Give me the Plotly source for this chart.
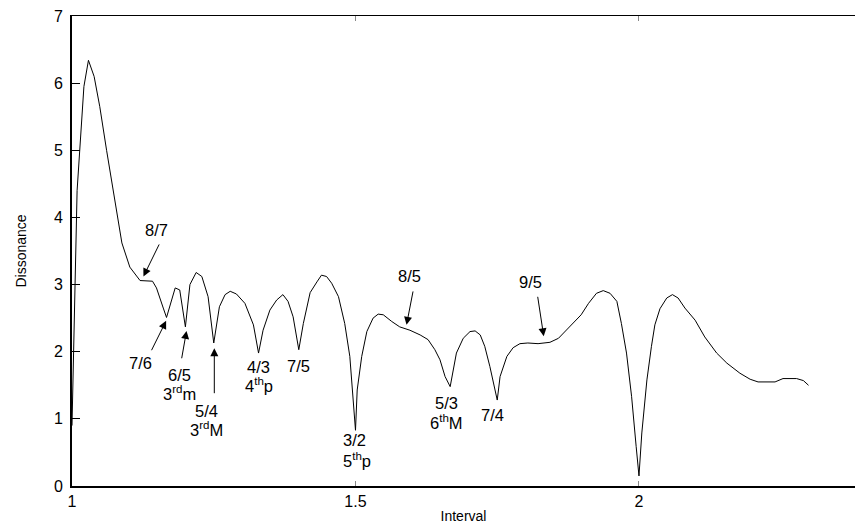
import plotly.graph_objects as go

# Dissonance curve (interval ratio, dissonance)
interval = [1.000, 1.009, 1.021, 1.029, 1.039, 1.049, 1.061, 1.076, 1.088, 1.102,
            1.120, 1.142, 1.149, 1.161, 1.1667, 1.182, 1.190, 1.200, 1.208, 1.219,
            1.229, 1.240, 1.250, 1.260, 1.270, 1.279, 1.290, 1.305, 1.320, 1.329,
            1.337, 1.349, 1.361, 1.372, 1.381, 1.390, 1.400, 1.408, 1.420, 1.432,
            1.440, 1.449, 1.458, 1.470, 1.481, 1.490, 1.496, 1.500, 1.503, 1.511,
            1.520, 1.531, 1.540, 1.549, 1.564, 1.578, 1.596, 1.614, 1.628, 1.640,
            1.649, 1.658, 1.667, 1.678, 1.690, 1.702, 1.711, 1.720, 1.728, 1.737,
            1.750, 1.755, 1.767, 1.778, 1.790, 1.804, 1.822, 1.834, 1.843, 1.858,
            1.878, 1.898, 1.911, 1.925, 1.937, 1.949, 1.961, 1.969, 1.978, 1.987,
            1.995, 2.000, 2.005, 2.014, 2.022, 2.028, 2.037, 2.049, 2.059, 2.069,
            2.081, 2.099, 2.116, 2.137, 2.155, 2.178, 2.196, 2.210, 2.240, 2.254,
            2.278, 2.290, 2.299]
dissonance = [0.90, 4.40, 5.95, 6.34, 6.10, 5.65, 5.00, 4.26, 3.62, 3.26,
              3.06, 3.05, 2.95, 2.65, 2.51, 2.95, 2.92, 2.37, 3.00, 3.18,
              3.12, 2.82, 2.13, 2.67, 2.85, 2.90, 2.86, 2.72, 2.40, 1.98,
              2.32, 2.62, 2.77, 2.85, 2.75, 2.52, 2.03, 2.42, 2.88, 3.04,
              3.14, 3.12, 3.02, 2.82, 2.42, 1.93, 1.33, 0.83, 1.43, 1.93,
              2.30, 2.50, 2.56, 2.55, 2.45, 2.37, 2.32, 2.25, 2.18, 2.03,
              1.88, 1.63, 1.48, 1.98, 2.20, 2.30, 2.31, 2.25, 2.08, 1.78,
              1.28, 1.63, 1.93, 2.06, 2.12, 2.13, 2.12, 2.13, 2.14, 2.20,
              2.37, 2.55, 2.72, 2.87, 2.91, 2.87, 2.75, 2.42, 1.98, 1.33,
              0.59, 0.15, 0.79, 1.58, 2.08, 2.40, 2.64, 2.80, 2.85, 2.80,
              2.65, 2.47, 2.22, 1.98, 1.83, 1.68, 1.59, 1.55, 1.55, 1.60,
              1.60, 1.57, 1.50]

# Text labels (text, x, y)
label_text = ["8/7", "7/6", "6/5", "3<sup>rd</sup>m", "5/4", "3<sup>rd</sup>M",
              "4/3", "4<sup>th</sup>p", "7/5", "3/2", "5<sup>th</sup>p", "8/5",
              "5/3", "6<sup>th</sup>M", "7/4", "9/5"]
label_x = [1.149, 1.120, 1.189, 1.189, 1.238, 1.238, 1.329, 1.329, 1.399,
           1.499, 1.503, 1.596, 1.661, 1.661, 1.742, 1.808]
label_y = [3.81, 1.83, 1.65, 1.38, 1.12, 0.85, 1.77, 1.50, 1.78,
           0.69, 0.39, 3.13, 1.23, 0.96, 1.06, 3.04]

# Arrows (tip x, tip y, tail x, tail y)
arrow_tip_x = [1.126, 1.166, 1.202, 1.251, 1.590, 1.832]
arrow_tip_y = [3.12, 2.46, 2.31, 2.05, 2.40, 2.23]
arrow_tail_x = [1.155, 1.139, 1.193, 1.251, 1.602, 1.821]
arrow_tail_y = [3.62, 2.00, 1.88, 1.36, 2.92, 2.84]

x_ticks = [1, 1.5, 2]
x_ticklabels = ["1", "1.5", "2"]
y_ticks = [0, 1, 2, 3, 4, 5, 6, 7]

FONT = "Liberation Sans, Arial, Helvetica, sans-serif"
XR = [1.0, 2.381]

fig = go.Figure()
fig.add_trace(go.Scatter(x=interval, y=dissonance, mode="lines",
                         line=dict(color="black", width=1), showlegend=False,
                         hoverinfo="skip"))

annotations = []
for t, x, y in zip(label_text, label_x, label_y):
    annotations.append(dict(x=x, y=y, xref="x", yref="y", text=t, showarrow=False,
                            font=dict(family=FONT, size=16.5, color="black"),
                            xanchor="center", yanchor="middle"))
for tx, ty, sx, sy in zip(arrow_tip_x, arrow_tip_y, arrow_tail_x, arrow_tail_y):
    annotations.append(dict(x=tx, y=ty, ax=sx, ay=sy, xref="x", yref="y",
                            axref="x", ayref="y", text="", showarrow=True,
                            arrowhead=2, arrowsize=1.6, arrowwidth=1,
                            arrowcolor="black", standoff=0, startstandoff=0))

fig.update_layout(
    width=855, height=528,
    margin=dict(l=72, r=0, t=16, b=42),
    paper_bgcolor="white", plot_bgcolor="white",
    font=dict(family=FONT, size=16, color="black"),
    annotations=annotations,
    xaxis=dict(range=XR, tickvals=x_ticks, ticktext=x_ticklabels,
               showgrid=False, zeroline=False, showline=True, linecolor="black",
               linewidth=2, ticks="inside", ticklen=5, tickcolor="#888888",
               tickwidth=1, tickfont=dict(family=FONT, size=16),
               title=dict(text="Interval", font=dict(family=FONT, size=14),
                          standoff=2)),
    xaxis2=dict(range=XR, overlaying="x", side="top", tickvals=x_ticks,
                showticklabels=False, showgrid=False, zeroline=False,
                showline=True, linecolor="black", linewidth=1.3,
                ticks="inside", ticklen=5, tickcolor="#888888", tickwidth=1),
    yaxis=dict(range=[0, 7], tickvals=y_ticks, showgrid=False, zeroline=False,
               showline=True, linecolor="black", linewidth=2, ticks="inside",
               ticklen=8, tickcolor="black", tickwidth=1,
               tickfont=dict(family=FONT, size=16), ticklabelstandoff=4,
               title=dict(text="Dissonance", font=dict(family=FONT, size=14),
                          standoff=24)),
)
# invisible trace to keep the top axis active
fig.add_trace(go.Scatter(x=[XR[0]], y=[0], xaxis="x2", mode="markers",
                         marker=dict(opacity=0), showlegend=False,
                         hoverinfo="skip"))

fig.write_html("out.html")
